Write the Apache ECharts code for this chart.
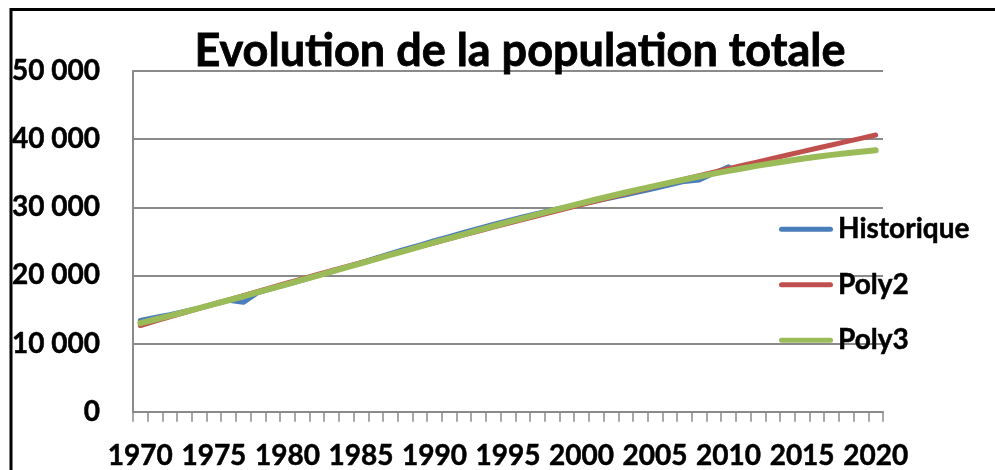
<!DOCTYPE html>
<html>
<head>
<meta charset="utf-8">
<script src="https://cdn.jsdelivr.net/npm/echarts@6/dist/echarts.min.js"></script>
<style>
  html, body { margin: 0; padding: 0; background: #fff; }
  #chart { width: 995px; height: 470px; }
</style>
</head>
<body>
<div id="chart"></div>
<script>
// Years on the horizontal axis
const years = [
  '1970','1971','1972','1973','1974','1975','1976','1977','1978','1979',
  '1980','1981','1982','1983','1984','1985','1986','1987','1988','1989',
  '1990','1991','1992','1993','1994','1995','1996','1997','1998','1999',
  '2000','2001','2002','2003','2004','2005','2006','2007','2008','2009',
  '2010','2011','2012','2013','2014','2015','2016','2017','2018','2019',
  '2020'
];

// Observed population, 1970-2010
const historique = [
  13400, 13850, 14250, 14700, 15200, 15750, 16350, 16050, 17500, 18100,
  18700, 19300, 19950, 20550, 21200, 21850, 22550, 23200, 23850, 24450,
  25100, 25700, 26300, 26900, 27500, 28050, 28600, 29100, 29600, 30050,
  30500, 30950, 31400, 31850, 32300, 32800, 33300, 33800, 34000, 35000,
  35950
];

// Second-degree trend, 1970-2020
const poly2 = [
  12650, 13290, 13920, 14560, 15180, 15810, 16430, 17050, 17670, 18280,
  18890, 19490, 20100, 20700, 21290, 21890, 22480, 23060, 23650, 24230,
  24800, 25380, 25950, 26510, 27080, 27640, 28200, 28750, 29300, 29850,
  30390, 30930, 31470, 32010, 32540, 33070, 33590, 34110, 34630, 35150,
  35660, 36170, 36670, 37180, 37670, 38170, 38660, 39150, 39640, 40120,
  40600
];

// Third-degree trend, 1970-2020
const poly3 = [
  13000, 13540, 14080, 14640, 15210, 15780, 16360, 16940, 17540, 18130,
  18740, 19340, 19950, 20560, 21170, 21780, 22400, 23010, 23620, 24230,
  24840, 25440, 26040, 26640, 27220, 27810, 28380, 28950, 29510, 30070,
  30610, 31140, 31660, 32170, 32670, 33150, 33620, 34080, 34520, 34940,
  35350, 35740, 36110, 36470, 36800, 37120, 37410, 37690, 37940, 38160,
  38370
];

const seriesNames = ['Historique', 'Poly2', 'Poly3'];
const seriesColors = ['#4A7EBB', '#C0504D', '#9BBB59'];
const titleText = 'Evolution de la population totale';

const FONT = 'Lato, "Liberation Sans", sans-serif';
const AXIS_GREY = '#8a8a8a';
// Capsule shaped legend key, like a thick line with round ends
const capsule = 'path://M2.5,0 L51.5,0 A2.5,2.5 0 0 1 51.5,5 L2.5,5 A2.5,2.5 0 0 1 2.5,0 Z';

// Bold text, thickened slightly with a same-colour outline
const boldText = (size, stroke) => ({
  fontFamily: FONT, fontWeight: 'bold', fontSize: size, color: '#000',
  textBorderColor: '#000', textBorderWidth: stroke
});

function fmtThousands(v) {
  if (v === 0) return '0';
  return String(Math.round(v / 1000)) + ' 000';
}

const chart = echarts.init(document.getElementById('chart'), null, { renderer: 'canvas' });

chart.setOption({
  animation: false,
  backgroundColor: '#ffffff',
  textStyle: { fontFamily: FONT },
  title: {
    text: titleText,
    left: 520,
    top: 29,
    padding: 0,
    textAlign: 'center',
    textStyle: boldText(45, 0.8)
  },
  legend: {
    orient: 'vertical',
    left: 779,
    top: 215,
    padding: 0,
    itemWidth: 54,
    itemHeight: 5,
    itemGap: 27,
    icon: capsule,
    data: seriesNames,
    textStyle: boldText(28, 0.5)
  },
  grid: { left: 133, top: 71, right: 112, bottom: 56.5, containLabel: false },
  xAxis: {
    type: 'category',
    data: years,
    boundaryGap: true,
    axisLine: { show: true, lineStyle: { color: AXIS_GREY, width: 2 } },
    axisTick: { show: true, interval: 0, length: 10, lineStyle: { color: AXIS_GREY, width: 1.5 } },
    axisLabel: Object.assign({ interval: 4, margin: 30 }, boldText(28, 0.5)),
    splitLine: { show: false }
  },
  yAxis: {
    type: 'value',
    min: 0,
    max: 50000,
    interval: 10000,
    axisLine: { show: true, lineStyle: { color: AXIS_GREY, width: 2 } },
    axisTick: { show: false },
    axisLabel: Object.assign({ margin: 33, formatter: fmtThousands }, boldText(28, 0.5)),
    splitLine: { show: true, lineStyle: { color: AXIS_GREY, width: 1.8 } }
  },
  graphic: [{
    // chart frame; its right and bottom sides fall outside the view
    type: 'rect',
    shape: { x: 11, y: 9.5, width: 1000, height: 480 },
    style: { fill: null, stroke: '#000', lineWidth: 3 },
    silent: true,
    z: 100
  }],
  series: [
    {
      name: seriesNames[0], type: 'line', data: historique,
      symbol: 'none', smooth: false, z: 2,
      color: seriesColors[0],
      lineStyle: { color: seriesColors[0], width: 5, cap: 'round', join: 'round' }
    },
    {
      name: seriesNames[1], type: 'line', data: poly2,
      symbol: 'none', smooth: false, z: 3,
      color: seriesColors[1],
      lineStyle: { color: seriesColors[1], width: 5, cap: 'round', join: 'round' }
    },
    {
      name: seriesNames[2], type: 'line', data: poly3,
      symbol: 'none', smooth: false, z: 4,
      color: seriesColors[2],
      lineStyle: { color: seriesColors[2], width: 6, cap: 'round', join: 'round' }
    }
  ]
});
</script>
</body>
</html>
